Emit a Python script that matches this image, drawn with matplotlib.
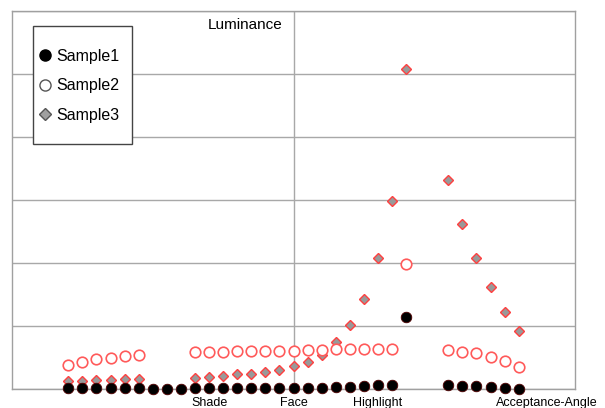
import numpy as np
import matplotlib
matplotlib.use("Agg")
import matplotlib.pyplot as plt
from matplotlib.lines import Line2D
from matplotlib.patches import Rectangle

plt.rcParams['font.family'] = ['Liberation Sans', 'DejaVu Sans']

# positions along the x axis (0..40), gap between highlight and acceptance-angle
x = np.arange(4, 37)
nan = np.nan

sample1 = [0.15, 0.15, 0.15, 0.15, 0.15, 0.15, 0.0, 0.0, 0.0,
           0.15, 0.15, 0.15, 0.15, 0.15, 0.15, 0.15, 0.15,
           0.1, 0.2, 0.3, 0.35, 0.5, 0.65, 0.6, 11.4,
           nan, nan,
           0.65, 0.55, 0.5, 0.3, 0.15, 0.0]
sample2 = [3.86, 4.33, 4.71, 4.87, 5.24, 5.35, nan, nan, nan,
           5.9, 5.95, 5.95, 6.0, 6.0, 6.0, 6.05, 6.05,
           6.15, 6.2, 6.3, 6.3, 6.3, 6.35, 6.35, 19.8,
           nan, nan,
           6.19, 5.92, 5.67, 5.03, 4.40, 3.54]
sample3 = [1.27, 1.32, 1.43, 1.48, 1.54, 1.59, nan, nan, nan,
           1.8, 1.9, 2.1, 2.33, 2.43, 2.7, 2.96, 3.6,
           4.34, 5.45, 7.4, 10.1, 14.3, 20.8, 29.8, 50.8,
           nan, nan,
           33.1, 26.2, 20.8, 16.2, 12.3, 9.15]

label_pos = [14, 20, 26, 38]
label_txt = ["Shade", "Face", "Highlight", "Acceptance-Angle"]

fig = plt.figure(figsize=(6.05, 4.08), dpi=100)
ax = fig.add_axes([12 / 605, 1 - 389 / 408, 563 / 605, 378 / 408])

ax.plot(x, sample3, ls='none', marker='D', ms=5.2, mfc='#999999', mec='#ff4040',
        mew=1.0, clip_on=False, zorder=3)
ax.plot(x, sample2, ls='none', marker='o', ms=7.6, mfc='white', mec='#ff5a5a',
        mew=1.2, clip_on=False, zorder=4)
ax.plot(x, sample1, ls='none', marker='o', ms=7.6, mfc='black', mec='#500000',
        mew=0.6, clip_on=False, zorder=5)

ax.set_xlim(0, 40)
ax.set_ylim(0, 60)
ax.set_yticks(np.arange(0, 61, 10))
ax.set_yticklabels([])
ax.set_xticks(label_pos)
ax.set_xticklabels(label_txt, fontsize=9)
ax.tick_params(which='both', length=0, pad=5.5)
ax.grid(True, axis='y', color='#a8a8a8', lw=1.0)
ax.axvline(20, color='#a8a8a8', lw=1.0, zorder=0.5)
ax.set_axisbelow(True)
for s in ax.spines.values():
    s.set_color('#a0a0a0')
    s.set_linewidth(1.0)

ax.text(0.48, 0.963, "Luminance", transform=ax.transAxes, ha='right', va='center',
        fontsize=11)

# legend box
box = Rectangle((33 / 605, 1 - 144 / 408), 99 / 605, 118 / 408, transform=fig.transFigure,
                facecolor='white', edgecolor='#444444', lw=1.0, zorder=8)
fig.add_artist(box)

handles = [
    Line2D([], [], ls='none', marker='o', ms=8, mfc='black', mec='black'),
    Line2D([], [], ls='none', marker='o', ms=8, mfc='white', mec='#555555', mew=1.0),
    Line2D([], [], ls='none', marker='D', ms=6.5, mfc='#a0a0a0', mec='#555555', mew=1.0),
]
leg = fig.legend(handles, ["Sample1", "Sample2", "Sample3"], loc='upper left',
                 bbox_to_anchor=(39 / 605, 1 - 49 / 408), frameon=False, fontsize=11.5,
                 borderpad=0, borderaxespad=0, handlelength=0.8, handletextpad=0.3,
                 labelspacing=0.9)
leg.set_zorder(10)

fig.savefig("out.png", dpi=100)
